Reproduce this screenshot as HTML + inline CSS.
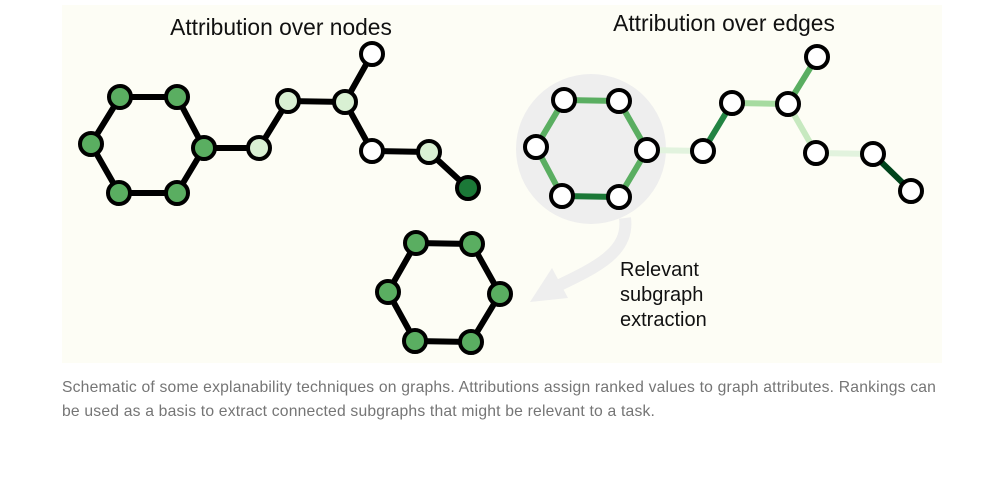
<!DOCTYPE html>
<html><head><style>
body{margin:0;background:#fff;width:1005px;height:481px;overflow:hidden;font-family:"Liberation Sans",sans-serif}
.cap{position:absolute;left:62px;top:376px;width:900px;font-size:15.7px;letter-spacing:0.19px;line-height:24px;color:#757575;white-space:nowrap}
</style></head><body>
<svg width="1005" height="481" style="position:absolute;left:0;top:0">
<rect x="62" y="5" width="880" height="358" fill="#fdfdf5"/>
<text x="281" y="35" font-size="22.8" text-anchor="middle" fill="#111" font-family="Liberation Sans">Attribution over nodes</text>
<text x="724" y="31" font-size="22.8" text-anchor="middle" fill="#111" font-family="Liberation Sans">Attribution over edges</text>
<g stroke="#000" stroke-width="6" fill="none">
<polyline points="120,97 177,97 204,148 177,193 119,193 91,144 120,97"/>
<polyline points="204,148 259,148 288,101 345,102 372,54"/>
<polyline points="345,102 372,151 429,152 468,188"/>
</g>
<g stroke="#000" stroke-width="4">
<g fill="#5aae61"><circle cx="120" cy="97" r="11"/><circle cx="177" cy="97" r="11"/><circle cx="91" cy="144" r="11"/><circle cx="204" cy="148" r="11"/><circle cx="119" cy="193" r="11"/><circle cx="177" cy="193" r="11"/></g>
<g fill="#d9f0d3"><circle cx="259" cy="148" r="11"/><circle cx="288" cy="101" r="11"/><circle cx="345" cy="102" r="11"/><circle cx="429" cy="152" r="11"/></g>
<g fill="#fff"><circle cx="372" cy="54" r="11"/><circle cx="372" cy="151" r="11"/></g>
<circle cx="468" cy="188" r="11" fill="#1b7837"/>
</g>
<circle cx="591" cy="149" r="75" fill="#eeeeee"/>
<path d="M625 218 C630 255 590 270 545 292" stroke="#eeeeee" stroke-width="12" fill="none"/>
<polygon points="530,302 552,268 568,298" fill="#eeeeee"/>
<g stroke-width="6" fill="none">
<line x1="564" y1="100" x2="619" y2="101" stroke="#5aae61"/>
<line x1="619" y1="101" x2="647" y2="150" stroke="#5aae61"/>
<line x1="647" y1="150" x2="619" y2="197" stroke="#5aae61"/>
<line x1="619" y1="197" x2="562" y2="196" stroke="#1b7837"/>
<line x1="562" y1="196" x2="536" y2="147" stroke="#5aae61"/>
<line x1="536" y1="147" x2="564" y2="100" stroke="#5aae61"/>
<line x1="647" y1="150" x2="703" y2="151" stroke="#e2f3de"/>
<line x1="703" y1="151" x2="732" y2="103" stroke="#238443"/>
<line x1="732" y1="103" x2="788" y2="104" stroke="#a6dba0"/>
<line x1="788" y1="104" x2="817" y2="57" stroke="#5aae61"/>
<line x1="788" y1="104" x2="816" y2="153" stroke="#c7e9c0"/>
<line x1="816" y1="153" x2="873" y2="154" stroke="#e2f3de"/>
<line x1="873" y1="154" x2="911" y2="191" stroke="#00441b"/>
</g>
<g stroke="#000" stroke-width="4" fill="#fff">
<circle cx="564" cy="100" r="11"/><circle cx="619" cy="101" r="11"/><circle cx="536" cy="147" r="11"/><circle cx="647" cy="150" r="11"/><circle cx="562" cy="196" r="11"/><circle cx="619" cy="197" r="11"/>
<circle cx="703" cy="151" r="11"/><circle cx="732" cy="103" r="11"/><circle cx="788" cy="104" r="11"/><circle cx="817" cy="57" r="11"/><circle cx="816" cy="153" r="11"/><circle cx="873" cy="154" r="11"/><circle cx="911" cy="191" r="11"/>
</g>
<polyline points="416,243 472,244 500,294 471,342 415,341 388,292 416,243" stroke="#000" stroke-width="6" fill="none"/>
<g stroke="#000" stroke-width="4" fill="#5aae61">
<circle cx="416" cy="243" r="11"/><circle cx="472" cy="244" r="11"/><circle cx="388" cy="292" r="11"/><circle cx="500" cy="294" r="11"/><circle cx="415" cy="341" r="11"/><circle cx="471" cy="342" r="11"/>
</g>
<g font-size="20" fill="#111" font-family="Liberation Sans">
<text x="620" y="276">Relevant</text>
<text x="620" y="301">subgraph</text>
<text x="620" y="326">extraction</text>
</g>
</svg>
<div class="cap">Schematic of some explanability techniques on graphs. Attributions assign ranked values to graph attributes. Rankings can<br>be used as a basis to extract connected subgraphs that might be relevant to a task.</div>
</body></html>
